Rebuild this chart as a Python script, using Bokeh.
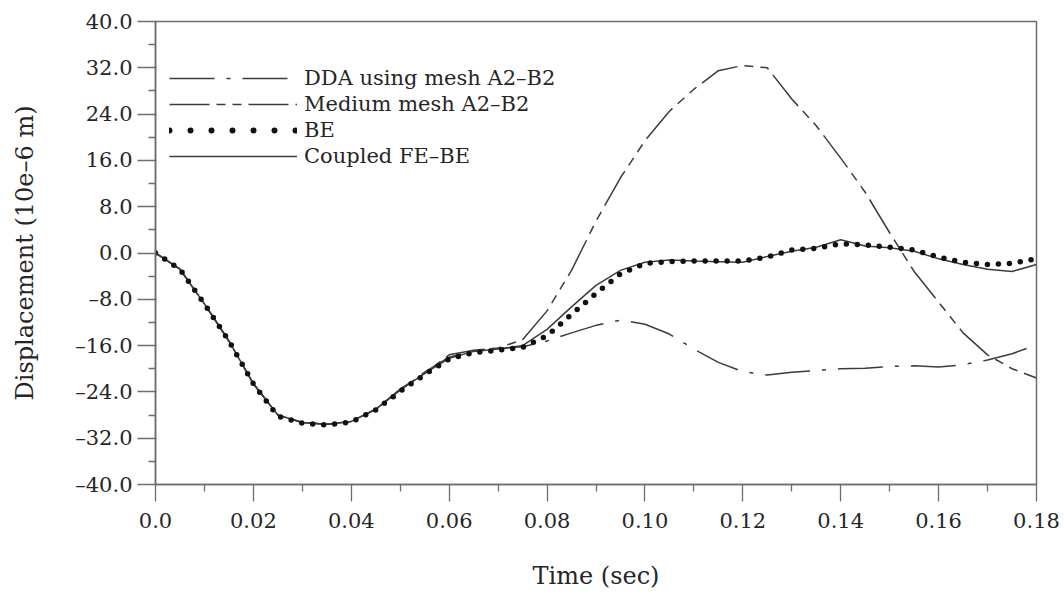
from bokeh.plotting import figure
from bokeh.models import Range1d, FixedTicker, Legend, LegendItem
from bokeh.embed import file_html
from bokeh.resources import INLINE

# ---- data ----
time_s = [0.0, 0.005, 0.01, 0.015, 0.02, 0.025, 0.03, 0.035, 0.04, 0.045,
          0.05, 0.055, 0.06, 0.065, 0.07, 0.075, 0.08, 0.085, 0.09, 0.095,
          0.1, 0.105, 0.11, 0.115, 0.12, 0.125, 0.13, 0.135, 0.14, 0.145,
          0.15, 0.155, 0.16, 0.165, 0.17, 0.175, 0.18]

dda_mesh = [0.0, -2.8, -8.8, -15.2, -22.6, -28.0, -29.3, -29.6, -29.1, -27.0,
            -23.6, -20.6, -18.0, -16.9, -16.5, -16.2, -15.2, -13.8, -12.5, -11.6,
            -12.3, -14.0, -16.6, -18.9, -20.5, -21.1, -20.6, -20.3, -20.0, -19.9,
            -19.6, -19.5, -19.7, -19.3, -18.5, -17.4, -15.9]

medium_mesh = [0.0, -2.8, -8.8, -15.2, -22.6, -28.0, -29.3, -29.6, -29.1, -27.0,
               -23.5, -20.8, -17.6, -16.8, -16.4, -15.0, -10.0, -3.0, 5.5, 13.0,
               19.4, 24.5, 28.3, 31.5, 32.4, 32.0, 26.6, 22.0, 16.4, 10.5,
               3.5, -3.2, -8.5, -13.8, -17.6, -20.0, -21.6]

be = [0.0, -2.8, -8.8, -15.2, -22.6, -28.2, -29.4, -29.7, -29.2, -27.1,
      -23.9, -21.0, -18.3, -17.2, -16.8, -16.3, -14.3, -10.6, -7.0, -3.6,
      -1.8, -1.5, -1.4, -1.4, -1.4, -0.7, 0.5, 0.8, 1.6, 1.4,
      1.0, 0.5, -0.7, -1.6, -2.0, -1.8, -1.0]

coupled_fe_be = [0.0, -2.8, -8.8, -15.2, -22.6, -28.0, -29.3, -29.6, -29.1, -27.0,
                 -23.7, -20.8, -18.2, -17.0, -16.6, -16.0, -13.2, -9.3, -5.6, -3.0,
                 -1.6, -1.2, -1.4, -1.5, -1.6, -0.6, 0.3, 1.0, 2.3, 1.2,
                 0.9, 0.3, -1.0, -2.0, -2.8, -3.2, -2.0]

x_ticks = [0.0, 0.02, 0.04, 0.06, 0.08, 0.10, 0.12, 0.14, 0.16, 0.18]
x_tick_labels = ["0.0", "0.02", "0.04", "0.06", "0.08", "0.10", "0.12", "0.14", "0.16", "0.18"]
x_minor = [0.01, 0.03, 0.05, 0.07, 0.09, 0.11, 0.13, 0.15, 0.17]
y_ticks = [-40, -32, -24, -16, -8, 0, 8, 16, 24, 32, 40]
y_tick_labels = ["\u201340.0", "\u201332.0", "\u201324.0", "\u201316.0", "\u20138.0", "0.0",
                 "8.0", "16.0", "24.0", "32.0", "40.0"]
y_minor = [-36, -28, -20, -12, -4, 4, 12, 20, 28, 36]

series_labels = ["DDA using mesh A2\u2013B2", "Medium mesh A2\u2013B2", "BE", "Coupled FE\u2013BE"]

FONT = "DejaVu Serif"
LINE = "#3c3c3c"
AXIS = "#6e6e6e"
TEXT = "#262626"

p = figure(frame_width=881, frame_height=463, output_backend="svg", toolbar_location=None,
           x_range=Range1d(0, 0.18), y_range=Range1d(-40, 40),
           min_border_left=155, min_border_right=27, min_border_top=21, min_border_bottom=112)
p.xgrid.visible = False
p.ygrid.visible = False
p.outline_line_color = AXIS
p.outline_line_width = 1.5
p.background_fill_color = "white"
p.border_fill_color = "white"

r_dda = p.line(time_s, dda_mesh, line_color=LINE, line_width=1.5, line_dash="45 12 4 12")
r_med = p.line(time_s, medium_mesh, line_color=LINE, line_width=1.5, line_dash="40 7 9 7 9 7")
r_cpl = p.line(time_s, coupled_fe_be, line_color=LINE, line_width=1.5)
r_be = p.line(time_s, be, line_color="#111111", line_width=5.5, line_dash="0 11", line_cap="round")
# legend key only (no visible data): wider dot spacing as in the reference legend
nan = float("nan")
r_be_key = p.line(x=[nan, nan], y=[nan, nan], line_color="#111111", line_width=6,
                  line_dash="0 21", line_cap="round")

xa = p.xaxis[0]
xa.ticker = FixedTicker(ticks=x_ticks, minor_ticks=x_minor)
xa.major_label_overrides = dict(zip(x_ticks, x_tick_labels))
xa.axis_label = "Time (sec)"
ya = p.yaxis[0]
ya.ticker = FixedTicker(ticks=y_ticks, minor_ticks=y_minor)
ya.major_label_overrides = dict(zip(y_ticks, y_tick_labels))
ya.axis_label = "Displacement (10e\u20136 m)"

for ax in (xa, ya):
    ax.axis_line_color = AXIS
    ax.axis_line_width = 1.5
    ax.major_tick_line_color = AXIS
    ax.minor_tick_line_color = AXIS
    ax.major_tick_line_width = 1.3
    ax.minor_tick_line_width = 1.3
    ax.major_label_text_font = FONT
    ax.major_label_text_font_size = "21px"
    ax.major_label_text_color = TEXT
    ax.axis_label_text_font = FONT
    ax.axis_label_text_font_size = "24px"
    ax.axis_label_text_font_style = "normal"
    ax.axis_label_text_color = TEXT
    ax.minor_tick_in = 0
    ax.minor_tick_out = 7

xa.major_tick_in = 0
xa.major_tick_out = 17
xa.major_label_standoff = 11
xa.axis_label_standoff = 31
ya.major_tick_in = 1
ya.major_tick_out = 18
ya.major_label_standoff = 5
ya.axis_label_standoff = 33

legend = Legend(items=[LegendItem(label=series_labels[0], renderers=[r_dda]),
                       LegendItem(label=series_labels[1], renderers=[r_med]),
                       LegendItem(label=series_labels[2], renderers=[r_be_key]),
                       LegendItem(label=series_labels[3], renderers=[r_cpl])],
                location=(14, 316))
legend.label_text_font = FONT
legend.label_text_font_size = "21px"
legend.label_text_color = TEXT
legend.glyph_width = 128
legend.glyph_height = 22
legend.label_height = 22
legend.label_standoff = 7
legend.spacing = 2
legend.padding = 0
legend.margin = 0
legend.border_line_alpha = 0
legend.background_fill_alpha = 0
p.add_layout(legend)

open("out.html", "w").write(file_html(p, INLINE))
